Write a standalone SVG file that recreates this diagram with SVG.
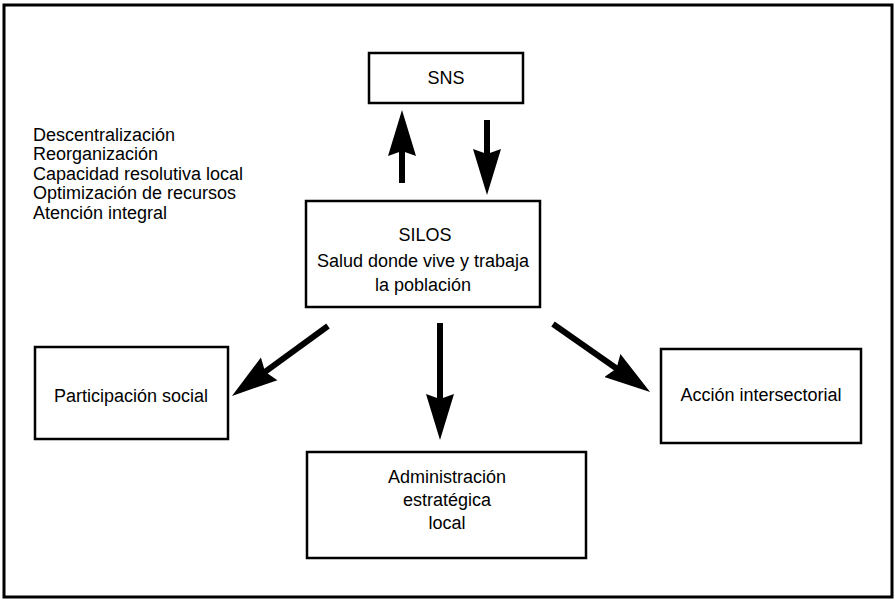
<svg xmlns="http://www.w3.org/2000/svg" width="895" height="600" viewBox="0 0 895 600">
  <defs>
    <style>
      .frame { fill: none; stroke: #000; stroke-width: 3; }
      .box { fill: #fff; stroke: #000; stroke-width: 2.5; }
      .lbl { font-family: "Liberation Sans", Arial, sans-serif; font-size: 18px; fill: #000; }
      .mid { text-anchor: middle; }
      .shaft { stroke: #000; stroke-width: 6; fill: none; }
      .head { fill: #000; stroke: none; }
    </style>
    <!-- solid arrowhead, 46 long x 30 wide, with a shallow notch at its base -->
    <marker id="arrowhead" viewBox="0 0 46 30" refX="6" refY="15" markerUnits="userSpaceOnUse" markerWidth="46" markerHeight="30" orient="auto">
      <path class="head" d="M0,1 L46,15 L0,29 L5,15 Z"/>
    </marker>
  </defs>

  <rect width="895" height="600" fill="#fff"/>
  <rect class="frame" x="4" y="5" width="888" height="592"/>

  <g id="sns">
    <rect class="box" x="369" y="53" width="154" height="50"/>
    <text class="lbl mid" x="446" y="84">SNS</text>
  </g>

  <g id="lista">
    <text class="lbl" x="33" y="141">Descentralización</text>
    <text class="lbl" x="33" y="160">Reorganización</text>
    <text class="lbl" x="33" y="180">Capacidad resolutiva local</text>
    <text class="lbl" x="33" y="199">Optimización de recursos</text>
    <text class="lbl" x="33" y="219">Atención integral</text>
  </g>

  <g id="silos">
    <rect class="box" x="306" y="201" width="234" height="106"/>
    <text class="lbl mid" x="425" y="241">SILOS</text>
    <text class="lbl mid" x="423" y="267">Salud donde vive y trabaja</text>
    <text class="lbl mid" x="423" y="291">la población</text>
  </g>

  <g id="participacion">
    <rect class="box" x="35" y="347" width="193" height="92"/>
    <text class="lbl mid" x="131" y="402">Participación social</text>
  </g>

  <g id="accion">
    <rect class="box" x="661" y="349" width="200" height="94"/>
    <text class="lbl mid" x="761" y="401">Acción intersectorial</text>
  </g>

  <g id="administracion">
    <rect class="box" x="307" y="452" width="279" height="106"/>
    <text class="lbl mid" x="447" y="483">Administración</text>
    <text class="lbl mid" x="447" y="506">estratégica</text>
    <text class="lbl mid" x="447" y="529">local</text>
  </g>

  <g id="connectors">
    <line class="shaft" x1="402" y1="183" x2="402" y2="150" marker-end="url(#arrowhead)"/>
    <line class="shaft" x1="487" y1="120" x2="487" y2="155" marker-end="url(#arrowhead)"/>
    <line class="shaft" x1="328" y1="326" x2="264.3" y2="372.4" marker-end="url(#arrowhead)"/>
    <line class="shaft" x1="440" y1="323" x2="440" y2="400" marker-end="url(#arrowhead)"/>
    <line class="shaft" x1="553" y1="324" x2="617.3" y2="369" marker-end="url(#arrowhead)"/>
  </g>
</svg>
